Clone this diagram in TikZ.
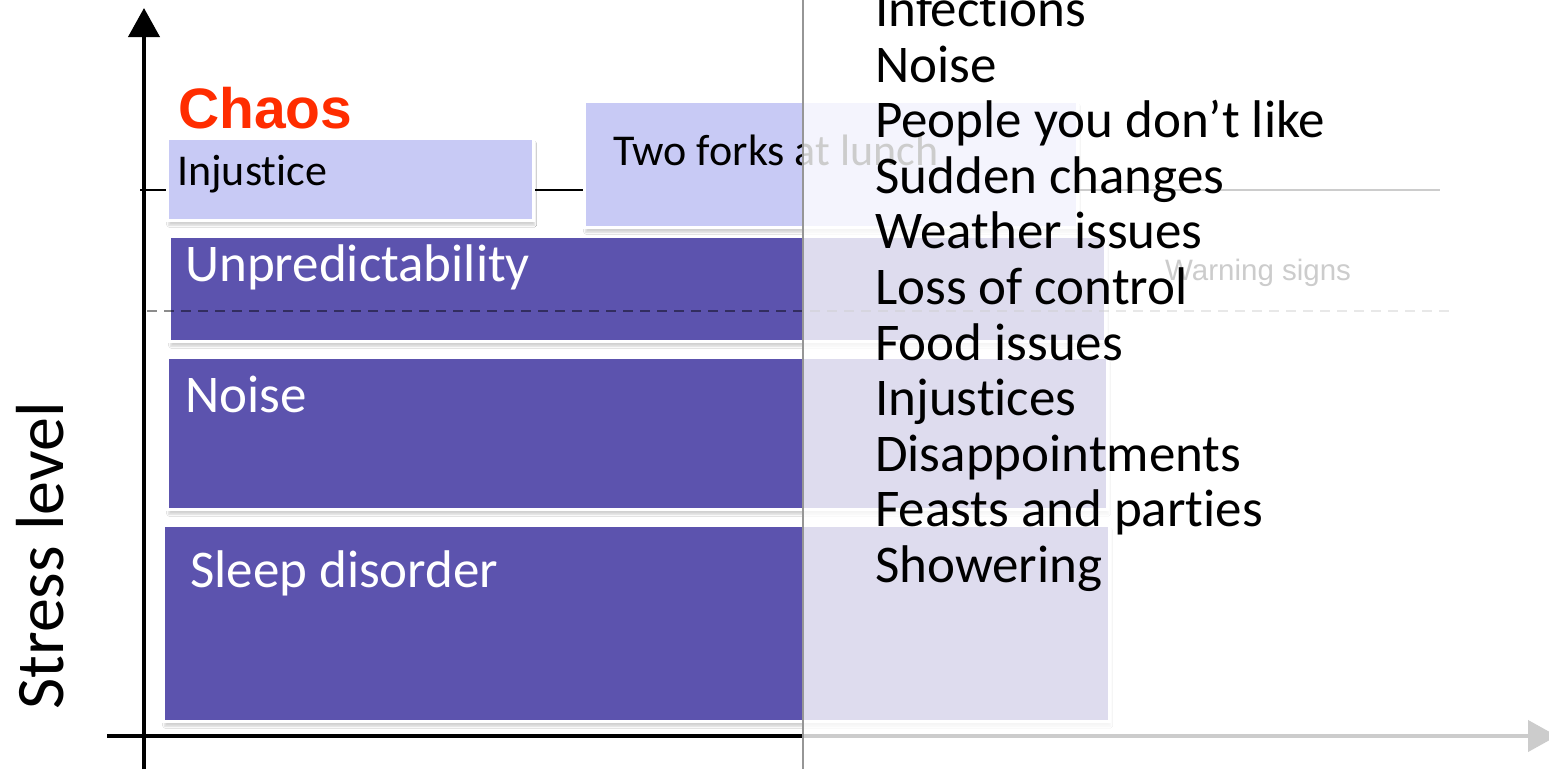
\documentclass[tikz,border=0pt]{standalone}
\usepackage{fontspec}
\setmainfont[Ligatures={NoCommon,NoContextual}]{Carlito}
\newfontfamily\arialfont{Liberation Sans}
\usetikzlibrary{arrows.meta,shadows.blur}
\definecolor{darkpurple}{RGB}{92,83,174}
\definecolor{lightlav}{RGB}{200,202,245}
\definecolor{chaosred}{RGB}{255,45,0}
\definecolor{divgray}{RGB}{150,150,150}
\tikzset{
  axisline/.style={line width=4pt, black},
  boxbase/.style={rectangle, inner sep=0pt, anchor=north west, draw=white, line width=2.5pt,
    blur shadow={shadow blur steps=6, shadow xshift=1.5pt, shadow yshift=-5pt, shadow opacity=18}},
  darkbox/.style={boxbase, fill=darkpurple},
  lightbox/.style={boxbase, fill=lightlav},
  txt/.style={anchor=base west, inner sep=0pt},
  bigwhite/.style={txt, text=white, font=\fontsize{53}{60}\selectfont},
  smallblack/.style={txt, text=black, font=\fontsize{44}{50}\selectfont},
  listtxt/.style={txt, text=black, font=\fontsize{53}{60}\selectfont},
}
\begin{document}
\begin{tikzpicture}[x=1pt, y=-1pt]
\useasboundingbox (0,0) rectangle (1549,769);
\fill[white] (0,0) rectangle (1549,769);

% axes
\coordinate (yb) at (144,769);
\coordinate (yt) at (144,8);
\coordinate (xl) at (107,736);
\coordinate (xr) at (1557,736);
\draw[axisline, -{Triangle[length=29pt,width=31pt]}] (yb) -- (yt);
\draw[axisline, -{Triangle[length=29pt,width=31pt]}] (xl) -- (xr);

% tick line at chaos level
\coordinate (t1) at (140,190);
\coordinate (t2) at (1440,190);
\draw[black, line width=2pt] (t1) -- (t2);

% boxes
\node[lightbox, minimum width=366pt, minimum height=82pt] (inj) at (166,137) {};
\node[lightbox, minimum width=493pt, minimum height=126pt] (fork) at (583,100) {};
\node[darkbox, minimum width=936pt, minimum height=105pt] (unp) at (168,235) {};
\node[darkbox, minimum width=940pt, minimum height=152pt] (noi) at (166,356) {};
\node[darkbox, minimum width=946pt, minimum height=196pt] (slp) at (162,524) {};

% dashed warning line
\coordinate (d1) at (147,311);
\coordinate (d2) at (1450,311);
\draw[black, opacity=0.45, line width=1.5pt, dash pattern=on 10pt off 7pt] (d1) -- (d2);

% texts
\node[txt, text=chaosred, font=\arialfont\bfseries\fontsize{57}{60}\selectfont] (chaos) at (178,128) {Chaos};
\node[smallblack] (tinj) at (177,185) {Injustice};
\node[smallblack] (tfork) at (613,165) {Two forks at lunch};
\node[bigwhite] (tunp) at (185,281) {Unpredictability};
\node[bigwhite] (tnoi) at (185,412) {Noise};
\node[bigwhite] (tslp) at (190,587) {Sleep disorder};
\node[txt, text=black, font=\arialfont\fontsize{29.5}{32}\selectfont] (warn) at (1165,280) {Warning signs};
\node[txt, rotate=90, font=\fontsize{68}{72}\selectfont] (stress) at (63,710) {Stress level};

% fading overlay on the right half
\fill[white, opacity=0.8] (803,0) rectangle (1549,769);

% divider
\coordinate (v1) at (803,0);
\coordinate (v2) at (803,769);
\draw[divgray, line width=2pt] (v1) -- (v2);

% list
\foreach \t [count=\i from 0] in {Infections, Noise, People you don’t like, Sudden changes, Weather issues, Loss of control, Food issues, Injustices, Disappointments, Feasts and parties, Showering}{
  \node[listtxt] (l\i) at (875,{26.4+55.6*\i}) {\t};
}
\end{tikzpicture}
\end{document}
